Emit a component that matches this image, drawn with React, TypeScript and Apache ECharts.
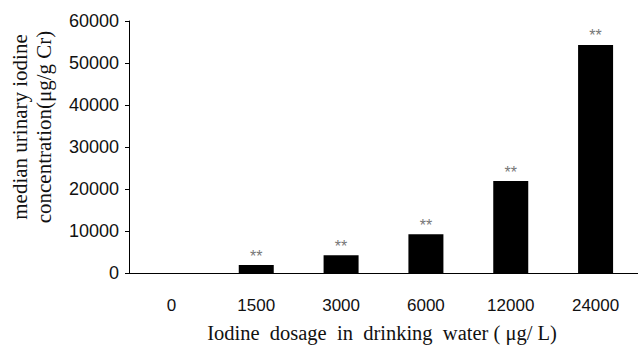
import React, { useEffect, useRef } from "react";
import * as echarts from "echarts";

const categories = ["0", "1500", "3000", "6000", "12000", "24000"];
const medianUIC = [0, 1900, 4200, 9200, 21900, 54300];
const significance = ["", "**", "**", "**", "**", "**"];
const yTicks = [0, 10000, 20000, 30000, 40000, 50000, 60000];
const xTitle = "Iodine  dosage  in  drinking  water ( \u03bcg/ L)";
const yTitleLines = ["median urinary iodine", "concentration(\u03bcg/g Cr)"];

export default function App() {
  const ref = useRef<HTMLDivElement>(null);
  useEffect(() => {
    if (!ref.current) return;
    const chart = echarts.init(ref.current, null, { renderer: "svg" });
    const serif = "'Liberation Serif', 'DejaVu Serif', serif";
    const sans = "'Liberation Sans', Arial, sans-serif";
    chart.setOption({
      animation: false,
      backgroundColor: "#ffffff",
      grid: { left: 129, top: 21, width: 519, height: 252, containLabel: false },
      xAxis: {
        type: "category",
        data: categories,
        boundaryGap: true,
        axisLine: { lineStyle: { color: "#000", width: 1 } },
        axisTick: { inside: true, length: 5, lineStyle: { color: "#000" } },
        axisLabel: { color: "#111", fontSize: 17, fontFamily: sans, margin: 24 },
      },
      yAxis: {
        type: "value",
        min: yTicks[0],
        max: yTicks[yTicks.length - 1],
        interval: 10000,
        splitLine: { show: false },
        axisLine: { show: true, lineStyle: { color: "#000", width: 1 } },
        axisTick: { show: true, inside: false, length: 4, lineStyle: { color: "#000" } },
        axisLabel: {
          color: "#111",
          fontSize: 18,
          fontFamily: sans,
          margin: 10,
          formatter: (v: number) => String(v),
        },
      },
      series: [
        {
          type: "bar",
          data: medianUIC.map((v, i) => ({
            value: v,
            label: { formatter: significance[i] },
          })),
          barWidth: 35,
          itemStyle: { color: "#000" },
          label: {
            show: true,
            position: "top",
            distance: 1,
            color: "#777",
            fontSize: 16,
            fontFamily: sans,
          },
        },
      ],
      graphic: [
        {
          type: "text",
          x: 382,
          y: 333,
          style: {
            text: xTitle,
            fill: "#111",
            font: `20.5px ${serif}`,
            textAlign: "center",
            textVerticalAlign: "middle",
          },
        },
        {
          type: "text",
          x: 20,
          y: 127,
          rotation: Math.PI / 2,
          style: {
            text: yTitleLines[0],
            fill: "#111",
            font: `21px ${serif}`,
            textAlign: "center",
            textVerticalAlign: "middle",
          },
        },
        {
          type: "text",
          x: 44,
          y: 127,
          rotation: Math.PI / 2,
          style: {
            text: yTitleLines[1],
            fill: "#111",
            font: `21px ${serif}`,
            textAlign: "center",
            textVerticalAlign: "middle",
          },
        },
      ],
    });
    return () => chart.dispose();
  }, []);
  return <div ref={ref} style={{ width: 638, height: 345, position: "fixed", left: 0, top: 0 }} />;
}
